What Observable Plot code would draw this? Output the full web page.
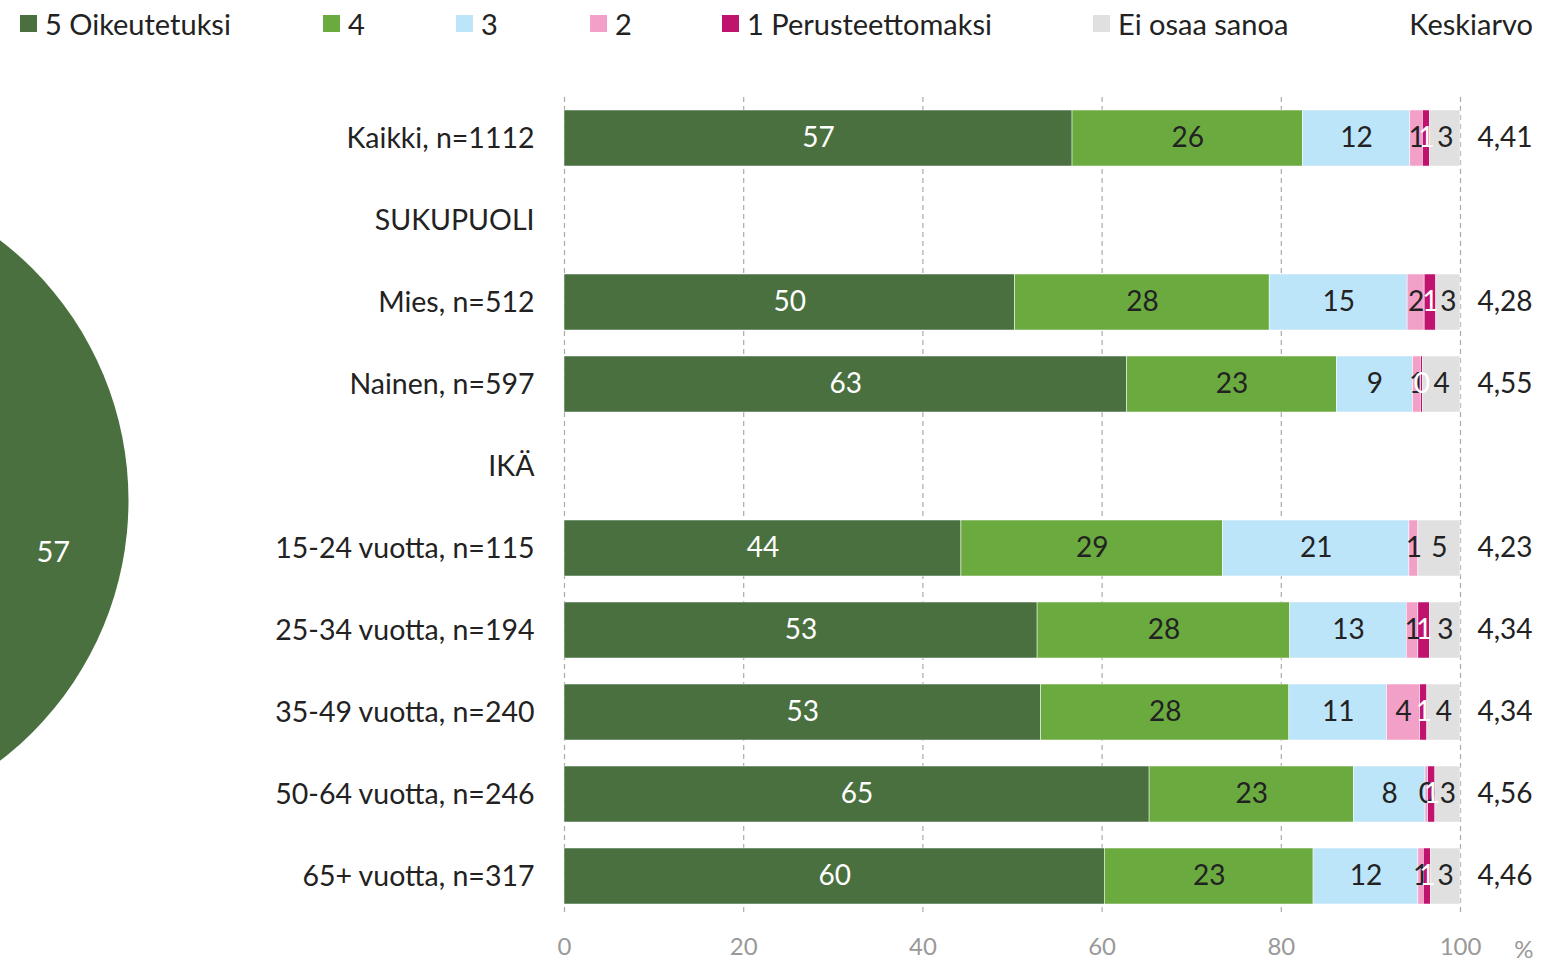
<!DOCTYPE html>
<html>
<head>
<meta charset="utf-8">
<script src="https://cdn.jsdelivr.net/npm/d3@7"></script>
<script src="https://cdn.jsdelivr.net/npm/@observablehq/plot@0.6"></script>
<style>
  body { margin: 0; background: #fff; font-family: Lato, "Open Sans", sans-serif; }
  #wrap { position: relative; width: 1555px; height: 962px; overflow: hidden; }
  #legend { position: relative; height: 60px; font-size: 29px; color: #222; }
  .li { position: absolute; top: 6px; display: flex; align-items: center; white-space: nowrap; }
  .sw { width: 17px; height: 17px; margin-right: 8px; }
</style>
</head>
<body>
<div id="wrap">
  <div id="legend"></div>
  <div id="chart"></div>
</div>
<script>
const rows = ["Kaikki, n=1112", "SUKUPUOLI", "Mies, n=512", "Nainen, n=597", "IKÄ",
  "15-24 vuotta, n=115", "25-34 vuotta, n=194", "35-49 vuotta, n=240", "50-64 vuotta, n=246", "65+ vuotta, n=317"];
const series = ["5 Oikeutetuksi", "4", "3", "2", "1 Perusteettomaksi", "Ei osaa sanoa"];
const colors = ["#4a7040", "#6aaa3f", "#bde5fa", "#f3a0c8", "#c0136e", "#e0e0e0"];
const labelColors = ["#ffffff", "#222222", "#222222", "#222222", "#ffffff", "#222222"];
// values per series, aligned with rows (null = heading row)
const s5   = [56.7, null, 50.3, 62.8, null, 44.3, 52.8, 53.2, 65.3, 60.3];
const s4   = [25.7, null, 28.4, 23.4, null, 29.2, 28.2, 27.7, 22.8, 23.3];
const s3   = [12.0, null, 15.4,  8.5, null, 20.8, 13.0, 10.9,  8.0, 11.7];
const s2   = [ 1.4, null,  1.9,  0.9, null,  1.0,  1.3,  3.7,  0.3,  0.6];
const s1   = [ 0.8, null,  1.3,  0.2, null,  0.0,  1.3,  0.8,  0.8,  0.8];
const sEos = [ 3.4, null,  2.7,  4.2, null,  4.7,  3.4,  3.7,  2.8,  3.3];
const means = ["4,41", null, "4,28", "4,55", null, "4,23", "4,34", "4,34", "4,56", "4,46"];
const xTicks = [0, 20, 40, 60, 80, 100];
const bigValue = [57];

// legend
const legendX = [20, 323, 456, 590, 722, 1093];
const legend = document.getElementById("legend");
series.forEach((s, i) => {
  const d = document.createElement("div");
  d.className = "li";
  d.style.left = legendX[i] + "px";
  d.innerHTML = `<span class="sw" style="background:${colors[i]}"></span><span>${s}</span>`;
  legend.appendChild(d);
});
const k = document.createElement("div");
k.className = "li";
k.style.right = "22px";
k.textContent = "Keskiarvo";
legend.appendChild(k);

// build table
const allSeries = [s5, s4, s3, s2, s1, sEos];
const data = [];
rows.forEach((r, ri) => {
  let cum = 0;
  allSeries.forEach((arr, si) => {
    const v = arr[ri];
    if (v == null) return;
    data.push({row: r, series: series[si], si, value: v, x1: cum, x2: cum + v, label: String(Math.round(v))});
    cum += v;
  });
});
const meanData = rows.map((r, i) => ({row: r, mean: means[i]})).filter(d => d.mean);
const segLabels = data.filter(d => !(d.si === 4 && d.value === 0));

const W = 1555, H = 902;
const plot = Plot.plot({
  width: W, height: H,
  marginLeft: 564, marginRight: 95, marginTop: 37, marginBottom: 47,
  style: {fontFamily: "Lato, 'Open Sans', sans-serif", background: "transparent", overflow: "visible"},
  x: {domain: [0, 100]},
  y: {domain: rows, range: [37, 857], paddingInner: 0.317, paddingOuter: 0.1585, align: 0.5},
  color: {domain: series, range: colors},
  marks: [
    Plot.dot(bigValue, {frameAnchor: "left", dx: -764, dy: -6, r: 328, fill: colors[0]}),
    Plot.text(bigValue, {frameAnchor: "left", dx: -528, dy: 46, text: d => String(d), fill: "#fff", fontSize: 29}),
    Plot.ruleX(xTicks, {stroke: "#aaa", strokeDasharray: "5,4", strokeWidth: 1.2}),
    Plot.barX(data, {y: "row", x1: "x1", x2: "x2", fill: "series", stroke: "#fff", strokeWidth: 0.5}),
    Plot.text(segLabels, {y: "row", x: d => (d.x1 + d.x2) / 2, text: "label", fill: d => labelColors[d.si], fontSize: 28}),
    Plot.text(meanData, {y: "row", x: () => 100, dx: 72, text: "mean", textAnchor: "end", fill: "#222", fontSize: 28}),
    Plot.axisY({tickSize: 0, tickPadding: 30, fontSize: 28.5, fill: "#222", label: null}),
    Plot.axisX({ticks: xTicks, tickSize: 0, tickPadding: 22, fontSize: 24, fill: "#999", label: null, tickFormat: d => String(d)}),
    Plot.text(["%"], {frameAnchor: "bottom-right", dx: 73, dy: 42, text: d => d, fill: "#999", fontSize: 24})
  ]
});
document.getElementById("chart").appendChild(plot);
</script>
</body>
</html>
